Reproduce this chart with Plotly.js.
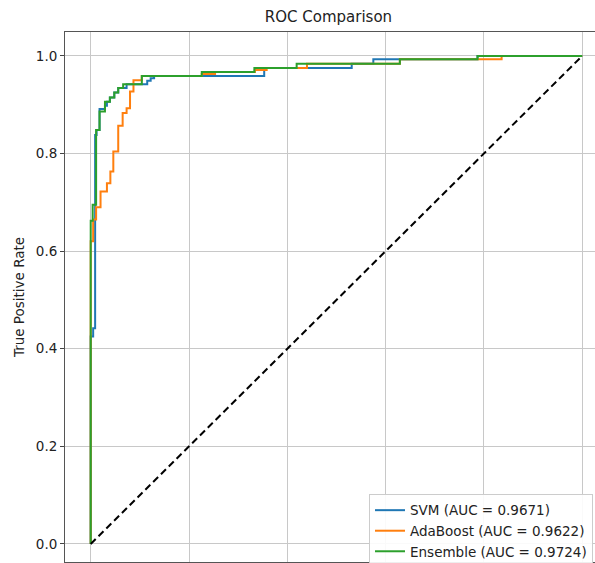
<!DOCTYPE html>
<html>
<head>
<meta charset="utf-8">
<script src="https://cdn.plot.ly/plotly-3.0.1.min.js"></script>
<style>html,body{margin:0;padding:0;background:#fff;overflow:hidden}</style>
</head>
<body>
<div id="chart" style="width:595px;height:563px"></div>
<script>
// ROC curve corner points
const svmFpr = [0,0,0.005,0.005,0.009,0.009,0.012,0.012,0.018,0.018,0.029,0.029,0.033,0.033,0.039,0.039,0.048,0.048,0.056,0.056,0.073,0.073,0.115,0.115,0.122,0.122,0.129,0.129,0.353,0.353,0.531,0.531,0.575,0.575,0.787,0.787,1];
const svmTpr = [0,0.425,0.425,0.442,0.442,0.838,0.838,0.848,0.848,0.891,0.891,0.898,0.898,0.906,0.906,0.915,0.915,0.925,0.925,0.934,0.934,0.942,0.942,0.949,0.949,0.954,0.954,0.959,0.959,0.975,0.975,0.984,0.984,0.993,0.993,1,1];

const adaFpr = [0,0,0.005,0.005,0.011,0.011,0.02,0.02,0.033,0.033,0.04,0.04,0.046,0.046,0.056,0.056,0.065,0.065,0.073,0.073,0.08,0.08,0.087,0.087,0.104,0.104,0.226,0.226,0.253,0.253,0.334,0.334,0.358,0.358,0.44,0.44,0.629,0.629,0.836,0.836,1];
const adaTpr = [0,0.62,0.62,0.665,0.665,0.69,0.69,0.722,0.722,0.739,0.739,0.763,0.763,0.804,0.804,0.857,0.857,0.883,0.883,0.893,0.893,0.927,0.927,0.95,0.95,0.959,0.959,0.963,0.963,0.967,0.967,0.971,0.971,0.975,0.975,0.984,0.984,0.993,0.993,1,1];

const ensFpr = [0,0,0.004,0.004,0.011,0.011,0.018,0.018,0.029,0.029,0.039,0.039,0.048,0.048,0.056,0.056,0.066,0.066,0.104,0.104,0.226,0.226,0.333,0.333,0.419,0.419,0.629,0.629,0.787,0.787,1];
const ensTpr = [0,0.662,0.662,0.695,0.695,0.848,0.848,0.886,0.886,0.906,0.906,0.915,0.915,0.925,0.925,0.934,0.934,0.942,0.942,0.959,0.959,0.967,0.967,0.975,0.975,0.984,0.984,0.993,0.993,1,1];

const chanceX = [0, 1];
const chanceY = [0, 1];

const seriesNames = ["SVM (AUC = 0.9671)", "AdaBoost (AUC = 0.9622)", "Ensemble (AUC = 0.9724)"];
const seriesColors = ["#1f77b4", "#ff7f0e", "#2ca02c"];
const yTicks = [0, 0.2, 0.4, 0.6, 0.8, 1.0];
const yTickText = ["0.0", "0.2", "0.4", "0.6", "0.8", "1.0"];

const xs = [svmFpr, adaFpr, ensFpr];
const ys = [svmTpr, adaTpr, ensTpr];

const traces = xs.map((x, i) => ({
  x: x, y: ys[i], type: "scatter", mode: "lines",
  name: seriesNames[i],
  line: {color: seriesColors[i], width: 2}
}));
traces.push({
  x: chanceX, y: chanceY, type: "scatter", mode: "lines", showlegend: false,
  line: {color: "#000000", width: 2, dash: "7px,4px"}
});

const layout = {
  width: 595, height: 563,
  margin: {l: 65, r: 0, t: 32, b: 1, autoexpand: false},
  paper_bgcolor: "#ffffff", plot_bgcolor: "#ffffff",
  font: {family: "DejaVu Sans, sans-serif", size: 13, color: "#222"},
  title: {text: "ROC Comparison", font: {size: 15, color: "#222"},
          xref: "container", yref: "container", x: 0.552, xanchor: "center", y: 1 - 17/563, yanchor: "middle"},
  xaxis: {range: [-0.0523, 1.026], tickvals: yTicks, showticklabels: false,
          ticks: "outside", ticklen: 4, tickcolor: "#444",
          showgrid: true, gridcolor: "#c8c8c8", gridwidth: 1, zeroline: false,
          showline: true, linecolor: "#555", linewidth: 1, mirror: true},
  yaxis: {range: [-0.037, 1.049], tickvals: yTicks, ticktext: yTickText,
          ticks: "outside", ticklen: 4, tickcolor: "#444",
          tickfont: {size: 13.5},
          showgrid: true, gridcolor: "#c8c8c8", gridwidth: 1, zeroline: false,
          showline: true, linecolor: "#555", linewidth: 1, mirror: false,
          title: {text: "True Positive Rate", font: {size: 13.5}, standoff: 8}},
  legend: {x: 0.5736, xanchor: "left", y: 0.1285, yanchor: "top",
           bgcolor: "rgba(255,255,255,0.9)", bordercolor: "#cccccc", borderwidth: 1,
           font: {size: 13.5, color: "#222"}, tracegroupgap: 0}
};

Plotly.newPlot("chart", traces, layout, {displayModeBar: false, staticPlot: true});
</script>
</body>
</html>
